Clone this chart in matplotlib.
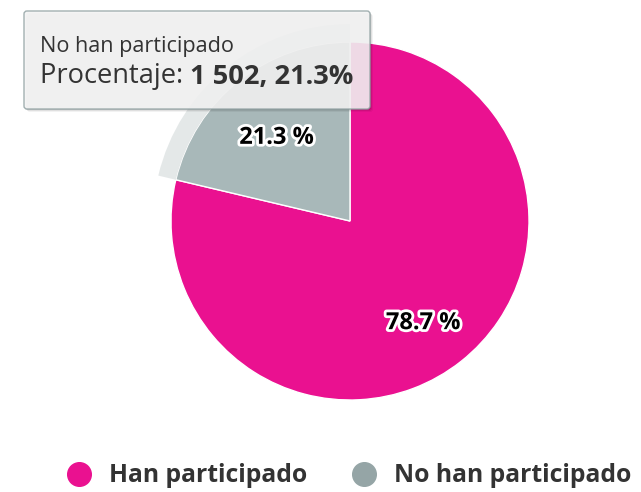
import matplotlib
matplotlib.use("Agg")
import matplotlib.pyplot as plt
from matplotlib.patches import Wedge, FancyBboxPatch
from matplotlib.lines import Line2D
from matplotlib.transforms import ScaledTranslation
import matplotlib.patheffects as pe

plt.rcParams['font.family'] = ['Open Sans', 'DejaVu Sans']

# data
categories = ['Han participado', 'No han participado']
percentages = [78.7, 21.3]
colors = ['#EA1190', '#95A5A6']
hover_gray = '#A8B8B9'  # hovered slice is drawn a bit lighter
tooltip_title = 'No han participado'
tooltip_label = 'Procentaje: '
tooltip_value = '1 502, 21.3%'

W, H = 641, 492
fig = plt.figure(figsize=(W / 100, H / 100), dpi=100)
ax = fig.add_axes([0, 0, 1, 1])

# pie in pixel-like coordinates (y up)
cx, cy, r = 350, H - 221, 179
wedges, _, autotexts = ax.pie(
    percentages, colors=[colors[0], hover_gray], startangle=90, counterclock=False,
    center=(cx, cy), radius=r, autopct='%.1f %%', pctdistance=0.66,
    wedgeprops=dict(edgecolor='white', linewidth=1))
shift = ScaledTranslation(0, -0.065, fig.dpi_scale_trans)  # labels sit a bit lower
for t in autotexts:
    t.set_fontsize(17)
    t.set_fontweight('bold')
    t.set_color('black')
    t.set_verticalalignment('center_baseline')
    t.set_transform(ax.transData + shift)
    t.set_path_effects([pe.withStroke(linewidth=4, foreground='white')])

# halo around the hovered slice
hw = wedges[1]
ax.add_patch(Wedge((cx, cy), r + 18, hw.theta1, hw.theta2, width=18,
                   facecolor=colors[1], alpha=0.25, edgecolor='none'))

# tooltip
bx, by, bw, bh = 24, H - 109, 346, 98
for off, a in [(3, 0.05), (2, 0.08), (1, 0.12)]:
    ax.add_patch(FancyBboxPatch((bx + off, by - off), bw, bh,
                                boxstyle='round,pad=0,rounding_size=3',
                                facecolor='black', alpha=a, edgecolor='none', zorder=5))
ax.add_patch(FancyBboxPatch((bx, by), bw, bh, boxstyle='round,pad=0,rounding_size=3',
                            facecolor='#F7F7F7', alpha=0.88, edgecolor=colors[1],
                            linewidth=1, zorder=6))
ax.text(40, H - 52, tooltip_title, fontsize=15.6, color='#333333', va='baseline', zorder=7)
t1 = ax.text(40, H - 83, tooltip_label, fontsize=19.6, color='#333333', va='baseline', zorder=7)
ax.annotate(tooltip_value, xy=(1, 0), xycoords=t1, va='bottom', ha='left',
            fontsize=19.6, fontweight='bold', color='#333333', zorder=7)

ax.set_xlim(0, W)
ax.set_ylim(0, H)
ax.set_aspect('auto')
ax.axis('off')

# legend
handles = [Line2D([], [], marker='o', linestyle='none', markersize=17,
                  markerfacecolor=c, markeredgecolor=c) for c in colors]
fig.legend(handles, categories, loc='center', bbox_to_anchor=(349 / W, 1 - 476 / H),
           ncol=2, frameon=False, prop=dict(size=17.8, weight='bold'),
           labelcolor='#333333', handlelength=1.0, handletextpad=0.7,
           columnspacing=1.8)

fig.savefig('out.png', dpi=100)
